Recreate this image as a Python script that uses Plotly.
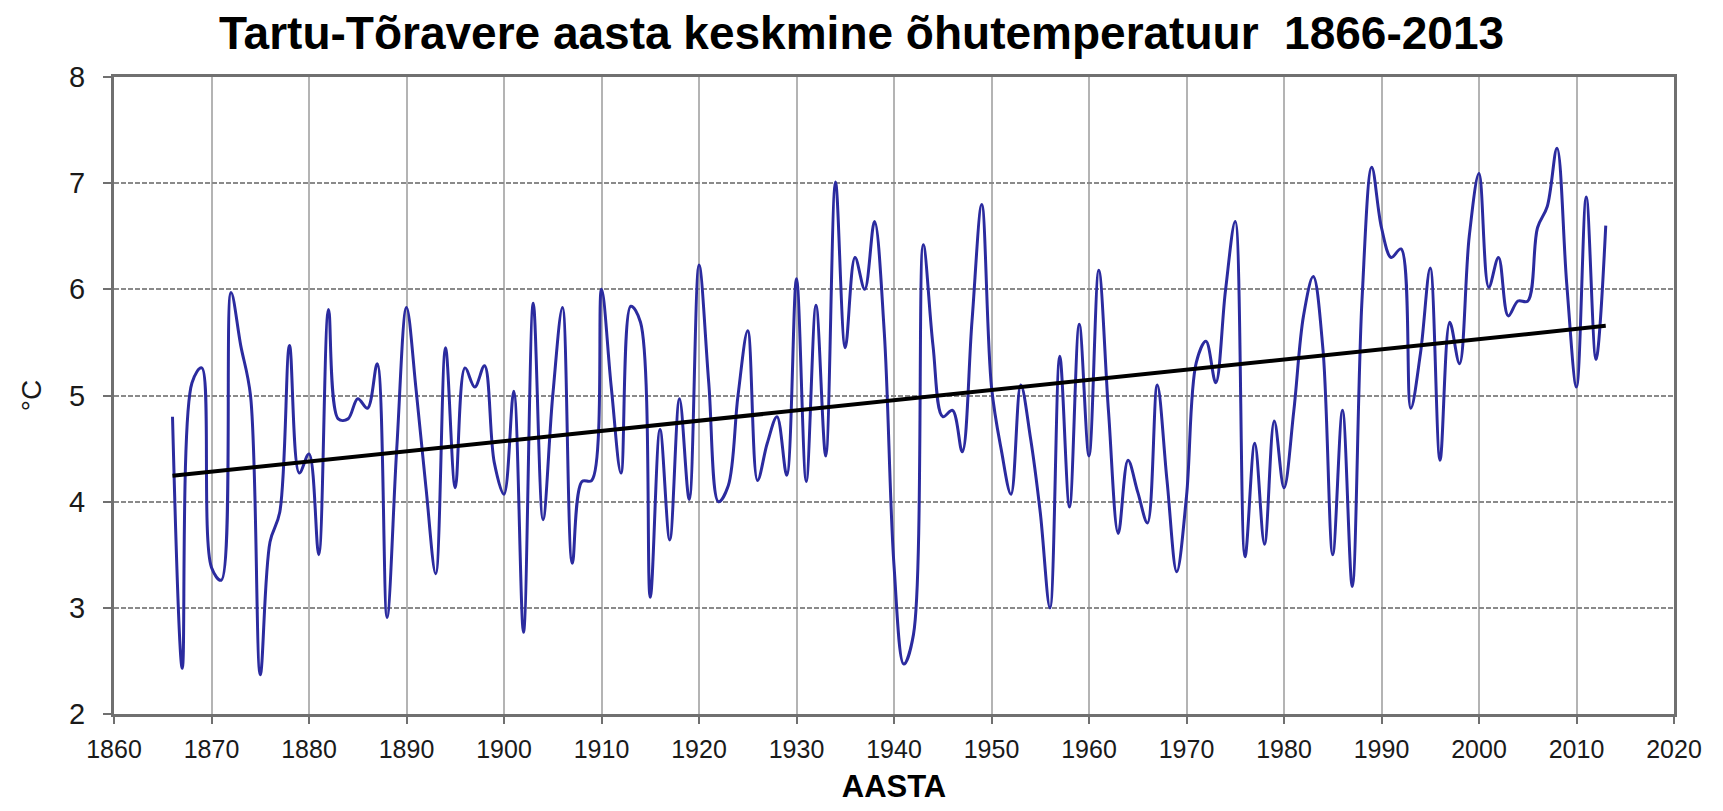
import numpy as np
import plotly.graph_objects as go

title_text = "Tartu-Tõravere aasta keskmine õhutemperatuur  1866-2013"
x_title = "AASTA"
y_title = "°C"

years = list(range(1866, 2014))
temps = [
    4.80, 2.43, 5.12, 5.26, 3.38, 3.26, 5.97, 5.47, 5.00, 2.37,   # 1866-1875
    3.62, 3.90, 5.47, 4.27, 4.45, 3.50, 5.81, 4.78, 4.78, 4.97,   # 1876-1885
    4.88, 5.30, 2.91, 4.50, 5.83, 5.04, 4.13, 3.32, 5.45, 4.13,   # 1886-1895
    5.26, 5.08, 5.28, 4.37, 4.07, 5.04, 2.77, 5.87, 3.83, 5.00,   # 1896-1905
    5.83, 3.42, 4.19, 4.20, 6.00, 5.08, 4.27, 5.84, 5.69, 3.10,   # 1906-1915
    4.68, 3.64, 4.97, 4.02, 6.23, 5.12, 4.00, 4.15, 5.00, 5.61,   # 1916-1925
    4.20, 4.55, 4.80, 4.25, 6.10, 4.19, 5.85, 4.43, 7.01, 5.45,   # 1926-1935
    6.30, 6.00, 6.64, 5.60, 3.40, 2.47, 2.75, 6.42, 5.47, 4.80,   # 1936-1945
    4.86, 4.47, 5.70, 6.80, 5.08, 4.49, 4.07, 5.10, 4.60, 3.90,   # 1946-1955
    3.00, 5.37, 3.95, 5.67, 4.43, 6.18, 4.85, 3.70, 4.39, 4.09,   # 1956-1965
    3.80, 5.10, 4.20, 3.34, 4.05, 5.31, 5.51, 5.12, 5.99, 6.64,   # 1966-1975
    3.48, 4.55, 3.60, 4.76, 4.13, 4.85, 5.75, 6.12, 5.43, 3.50,   # 1976-1985
    4.86, 3.20, 5.90, 7.15, 6.58, 6.30, 6.38, 4.88, 5.40, 6.20,   # 1986-1995
    4.39, 5.69, 5.30, 6.50, 7.09, 6.02, 6.30, 5.75, 5.89, 5.89,   # 1996-2005
    6.58, 6.78, 7.33, 6.05, 5.08, 6.87, 5.34, 6.60,               # 2006-2013
]
assert len(years) == len(temps)

x_ticks = list(range(1860, 2021, 10))
y_ticks = list(range(2, 9))

# linear trend from data
coef = np.polyfit(years, temps, 1)
trend_x = [years[0], years[-1]]
trend_y = [float(np.polyval(coef, v)) for v in trend_x]

FONT = "Liberation Sans, Arial, sans-serif"

fig = go.Figure()
fig.add_trace(go.Scatter(
    x=years, y=temps, mode="lines",
    line=dict(color="#2b2b9f", width=3, shape="spline", smoothing=1.0),
    showlegend=False, hoverinfo="x+y",
))
fig.add_trace(go.Scatter(
    x=trend_x, y=trend_y, mode="lines",
    line=dict(color="black", width=4),
    showlegend=False, hoverinfo="skip",
))

fig.update_layout(
    width=1723, height=811,
    paper_bgcolor="white", plot_bgcolor="white",
    margin=dict(l=114, r=49, t=77, b=94),
    title=dict(text="<b>" + title_text + "</b>", x=0.5, xanchor="center",
               y=0.96, yanchor="middle",
               font=dict(family=FONT, size=46, color="black")),
    font=dict(family=FONT, color="black"),
)
fig.update_xaxes(
    range=[1860, 2020], tickvals=x_ticks, ticktext=[str(v) for v in x_ticks],
    showgrid=True, gridcolor="#b4b4b4", gridwidth=2,
    showline=True, linecolor="#707070", linewidth=3, mirror=True,
    ticks="outside", ticklen=7, tickwidth=2, tickcolor="#707070",
    ticklabelstandoff=4,
    tickfont=dict(family=FONT, size=25, color="#1a1a1a"),
    title=dict(text="<b>" + x_title + "</b>", standoff=14,
               font=dict(family=FONT, size=31, color="black")),
    zeroline=False,
)
fig.update_yaxes(
    range=[2, 8], tickvals=y_ticks, ticktext=[str(v) for v in y_ticks],
    showgrid=True, gridcolor="#8a8a8a", gridwidth=2, griddash="5px,2px",
    showline=True, linecolor="#707070", linewidth=3, mirror=True,
    ticks="outside", ticklen=8, tickwidth=2, tickcolor="#707070",
    ticklabelstandoff=12,
    tickfont=dict(family=FONT, size=29, color="#1a1a1a"),
    title=dict(text=y_title, standoff=20,
               font=dict(family=FONT, size=28, color="#1a1a1a")),
    zeroline=False,
)

fig.write_html("out.html")
